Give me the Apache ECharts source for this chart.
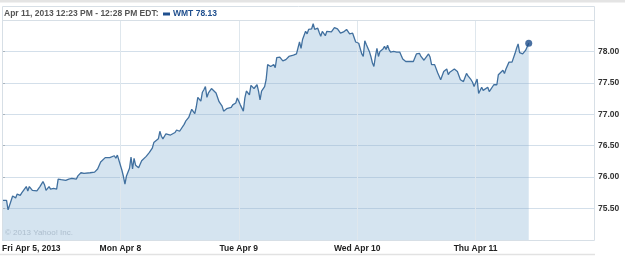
<!DOCTYPE html>
<html><head><meta charset="utf-8">
<script src="https://cdn.jsdelivr.net/npm/echarts@6/dist/echarts.min.js"></script>
<style>html,body{margin:0;padding:0;background:#fff}#c{width:625px;height:257px}</style>
</head><body><div id="c"></div>
<script>
// Day labels (each trading day = 78 five-minute bars)
const dayLabels = ['Fri Apr 5, 2013', 'Mon Apr 8', 'Tue Apr 9', 'Wed Apr 10', 'Thu Apr 11'];
const barsPerDay = 78;
const tradingDays = 5;
// 5-minute bar index since Apr 5 open
const barIdx = [
  0,3,4,5,7,9,10,12,13,14,16,17,18,20,21,23,25,27,28,29,31,32,34,36,37,39,40,42,44,46,47,49,50,52,54,55,58,59,61,63,64,65,66,68,69,71,72,74,75,76,77,
  79,80,81,82,84,85,86,87,88,90,92,93,95,96,97,99,100,101,103,104,105,106,108,109,111,112,114,115,117,118,120,121,123,124,125,127,128,129,131,132,133,134,135,136,138,139,141,143,145,146,148,149,151,152,154,155,
  157,159,160,161,163,164,165,166,168,169,170,171,173,174,175,176,177,179,180,181,183,184,185,187,188,189,190,192,193,194,196,197,198,200,201,202,204,205,206,208,209,210,211,213,214,215,217,218,219,221,222,223,225,226,227,228,229,231,232,233,
  235,237,238,239,240,241,242,243,244,245,246,247,248,249,251,252,253,254,255,256,258,259,260,262,263,264,266,267,268,269,271,272,273,275,276,278,279,281,282,283,285,286,287,289,290,291,293,294,295,296,298,299,300,302,303,304,306,307,308,309,310,311,
  313,314,316,317,318,320,321,322,324,325,326,327,328,330,331,332,334,335,336,338,339,340,341,343,344,345,347
];
// WMT price at each bar
const prices = [
  75.63,75.63,75.48,75.51,75.70,75.67,75.73,75.71,75.75,75.72,75.85,75.78,75.85,75.79,75.81,75.78,75.85,75.93,75.88,75.79,75.85,75.81,75.82,75.81,75.97,75.96,75.99,75.95,75.97,75.98,76.00,75.97,76.02,76.07,76.06,76.08,76.07,76.07,76.08,76.13,76.16,76.24,76.23,76.31,76.32,76.31,76.29,76.34,76.30,76.35,76.38,
  76.11,76.01,75.89,76.02,76.14,76.32,76.13,76.30,76.19,76.15,76.26,76.29,76.33,76.31,76.39,76.46,76.55,76.52,76.61,76.73,76.65,76.61,76.69,76.71,76.67,76.68,76.71,76.75,76.73,76.74,76.84,76.89,76.95,76.97,77.08,77.01,77.12,77.27,77.21,77.35,77.39,77.44,77.27,77.34,77.41,77.39,77.34,77.20,77.13,77.05,77.09,77.08,77.11,77.15,77.18,77.26,
  77.15,77.05,77.26,77.37,77.31,77.46,77.47,77.41,77.47,77.37,77.23,77.37,77.44,77.55,77.79,77.82,77.76,77.79,77.74,77.90,77.91,77.90,77.85,77.87,77.84,77.92,77.91,77.94,77.94,77.96,78.15,78.05,78.19,78.32,78.28,78.35,78.36,78.44,78.35,78.37,78.30,78.24,78.32,78.25,78.32,78.29,78.31,78.29,78.38,78.36,78.35,78.29,78.31,78.29,78.35,78.36,78.28,78.29,78.27,78.15,
  78.13,77.96,77.92,78.17,78.11,78.12,78.00,77.92,77.82,77.76,77.92,78.05,77.92,78.00,78.04,78.08,78.03,78.10,78.03,77.99,78.00,77.99,77.99,77.99,77.96,77.88,77.84,77.83,77.84,77.82,77.84,77.90,77.96,77.97,77.92,77.86,77.89,77.96,77.91,77.79,77.79,77.77,77.66,77.55,77.58,77.68,77.72,77.63,77.67,77.70,77.72,77.74,77.68,77.55,77.52,77.52,77.65,77.61,77.60,77.55,77.51,77.44,
  77.56,77.33,77.43,77.38,77.35,77.43,77.36,77.34,77.47,77.50,77.47,77.63,77.60,77.70,77.65,77.72,77.83,77.82,77.83,77.97,78.05,78.12,77.98,77.96,77.95,78.02,78.13
];
const yMin = 75.0, yMax = 78.5, yStep = 0.5;
const headerRange = 'Apr 11, 2013 12:23 PM - 12:28 PM EDT:';
const ticker = 'WMT';
const copyright = '\u00A9 2013 Yahoo! Inc.';

const pts = barIdx.map((b, i) => [b, prices[i]]);
const last = pts[pts.length - 1];
const F = '"Liberation Sans", Arial, sans-serif';

const chart = echarts.init(document.getElementById('c'), null, {renderer: 'canvas'});
chart.setOption({
  animation: false,
  backgroundColor: '#fff',
  grid: {left: 2, right: 31, top: 20, bottom: 17, containLabel: false, outerBoundsMode: 'none'},
  xAxis: {
    type: 'value', min: 0, max: barsPerDay * tradingDays, interval: barsPerDay, z: 3,
    axisLine: {show: false}, axisTick: {show: false},
    splitLine: {show: true, lineStyle: {color: '#dfe7ed', width: 1}},
    axisLabel: {
      margin: 4, fontFamily: F, fontSize: 8.5, fontWeight: 'bold', color: '#222',
      alignMinLabel: 'left',
      formatter: v => dayLabels[Math.round(v / barsPerDay)] || ''
    }
  },
  yAxis: {
    type: 'value', position: 'right', min: yMin, max: yMax, interval: yStep, z: 3,
    axisLine: {show: false},
    axisTick: {show: true, length: 3, lineStyle: {color: '#aab4bd'}},
    splitLine: {show: true, lineStyle: {color: 'rgba(140,172,200,0.38)', width: 1}},
    axisLabel: {
      margin: 4, fontFamily: F, fontSize: 8.5, fontWeight: 'bold', color: '#333',
      showMinLabel: false, showMaxLabel: false,
      formatter: v => v.toFixed(2)
    }
  },
  series: [
    {type: 'line', data: pts, z: 1, showSymbol: false, lineStyle: {width: 0, opacity: 0},
     areaStyle: {color: '#d5e4f0', opacity: 1}},
    {type: 'line', data: pts, z: 5, showSymbol: false,
     lineStyle: {color: '#41709f', width: 1.3}},
    {type: 'scatter', data: [last], z: 6, symbolSize: 7,
     itemStyle: {color: '#1d4c8a'}}
  ],
  graphic: [
    {type: 'rect', z: 10, shape: {x: 0, y: 0, width: 625, height: 2.5}, style: {fill: '#e4e4e4'}},
    {type: 'rect', z: 10, shape: {x: 2.5, y: 6.5, width: 592, height: 234}, style: {fill: null, stroke: '#d7dfe6', lineWidth: 1}},
    {type: 'line', z: 10, shape: {x1: 2, y1: 20.5, x2: 595, y2: 20.5}, style: {stroke: '#d7dfe6', lineWidth: 1}},
    {type: 'line', z: 10, shape: {x1: 0, y1: 254.5, x2: 595, y2: 254.5}, style: {stroke: '#e2e2e2', lineWidth: 1.5}},
    {type: 'text', z: 10, x: 4, y: 14, style: {text: headerRange, fill: '#555', font: 'bold 8.5px ' + F, verticalAlign: 'middle'}},
    {type: 'rect', z: 10, shape: {x: 163, y: 12.5, width: 7, height: 3}, style: {fill: '#1f4f8e'}},
    {type: 'text', z: 10, x: 173, y: 14, style: {text: ticker + ' ' + last[1].toFixed(2), fill: '#1f4f8e', font: 'bold 8.5px ' + F, verticalAlign: 'middle'}},
    {type: 'text', z: 10, x: 5, y: 233, style: {text: copyright, fill: '#adbecd', font: '8px ' + F, verticalAlign: 'middle'}}
  ]
});
</script></body></html>
